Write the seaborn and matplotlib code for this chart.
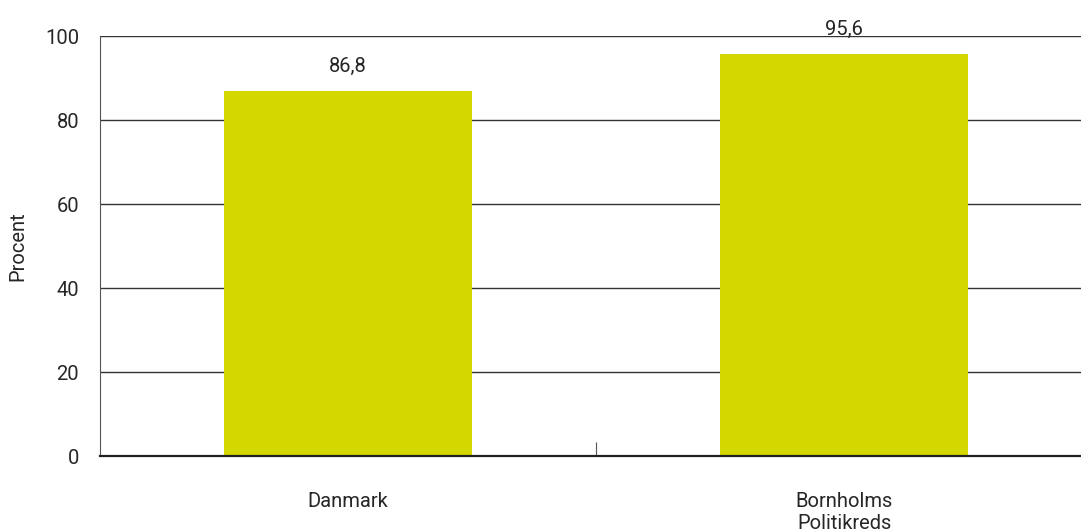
import matplotlib
matplotlib.use('Agg')
import matplotlib.pyplot as plt
import seaborn as sns
import pandas as pd

categories = ['Danmark', 'Bornholms\nPolitikreds']
values = [86.8, 95.6]
yticks = [0, 20, 40, 60, 80, 100]

df = pd.DataFrame({'omraade': categories, 'procent': values})

sns.set_theme(style='white')
plt.rcParams['font.family'] = ['Roboto', 'DejaVu Sans']

fig = plt.figure(figsize=(10.81, 5.32), dpi=100)
ax = fig.add_axes([100/1081, 76/532, 992/1081, 420/532])

sns.barplot(data=df, x='omraade', y='procent', color='#d4d800', width=0.5,
            saturation=1, linewidth=0, ax=ax)

ax.set_ylim(0, 100)
ax.set_xlim(-0.5, 1.5)
ax.set_yticks(yticks)
ax.yaxis.grid(True, color='#333333', linewidth=1)
ax.set_axisbelow(True)
for s in ['top', 'right']:
    ax.spines[s].set_visible(False)
ax.spines['left'].set_color('#555555')
ax.spines['left'].set_linewidth(0.8)
ax.spines['bottom'].set_color('#222222')
ax.spines['bottom'].set_linewidth(1.6)

# tick between the two categories
ax.set_xticks([0.5], minor=True)
ax.tick_params(axis='x', which='minor', direction='in', length=10, width=0.8,
               color='#555555', bottom=True)
ax.tick_params(axis='x', which='major', length=0, pad=26, labelsize=14.5)
ax.tick_params(axis='y', length=0, pad=15, labelsize=14.5)

for i, v in enumerate(values):
    ax.text(i, v + 3.8, f'{v:.1f}'.replace('.', ','), ha='center', va='bottom',
            fontsize=14.5)

ax.set_xlabel('')
ax.set_ylabel('Procent', fontsize=14.5, labelpad=13)
for lbl in ax.get_xticklabels():
    lbl.set_linespacing(1.2)

fig.savefig('out.png', dpi=100)
